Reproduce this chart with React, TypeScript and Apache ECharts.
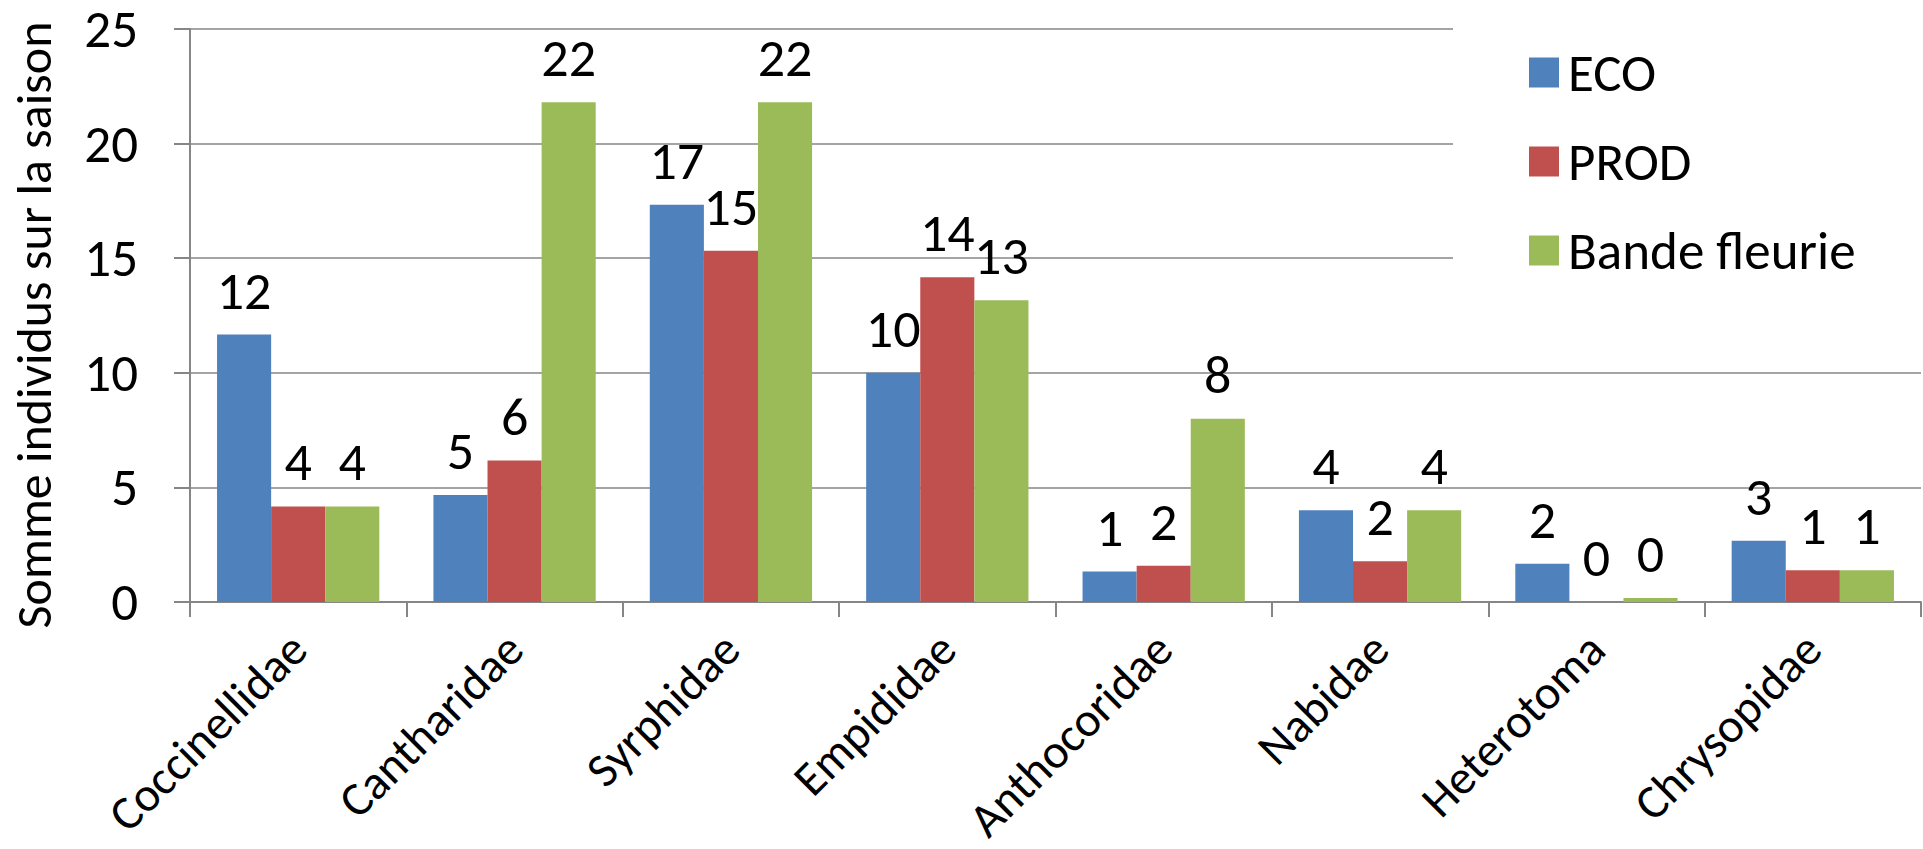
import React, { useEffect, useRef } from "react";
import * as echarts from "echarts";

// Families of beneficial insects counted over the season
const categories = [
  "Coccinellidae",
  "Cantharidae",
  "Syrphidae",
  "Empididae",
  "Anthocoridae",
  "Nabidae",
  "Heterotoma",
  "Chrysopidae",
];

// Season totals (mean per plot) for each treatment
const ecoValues = [11.67, 4.67, 17.33, 10, 1.33, 4, 1.67, 2.67];
const prodValues = [4.17, 6.17, 15.33, 14.17, 1.58, 1.78, 0, 1.38];
const bandeValues = [4.17, 21.8, 21.8, 13.17, 8, 4, 0.17, 1.38];

const seriesNames = ["ECO", "PROD", "Bande fleurie"];
const seriesColors = ["#4F81BD", "#C0504D", "#9BBB59"];

const yMin = 0;
const yMax = 25;
const yStep = 5;

const FONT = "Carlito, Calibri, 'Liberation Sans', Arial, sans-serif";
const AXIS_GREY = "#868686";

export default function App() {
  const ref = useRef<HTMLDivElement>(null);

  useEffect(() => {
    document.body.style.margin = "0";
    if (!ref.current) return;
    const chart = echarts.init(ref.current, undefined, { renderer: "svg" });

    const makeSeries = (name: string, data: number[], color: string) => ({
      name,
      type: "bar",
      data,
      barGap: "0%",
      barCategoryGap: "25%",
      itemStyle: { color },
      label: {
        show: true,
        position: "top",
        distance: 17,
        color: "#000",
        fontFamily: FONT,
        fontSize: 54,
        formatter: (p: any) => String(Math.round(p.value)),
      },
    });

    chart.setOption({
      animation: false,
      backgroundColor: "#fff",
      textStyle: { fontFamily: FONT },
      grid: {
        left: 184,
        top: 29,
        right: 2,
        bottom: 848 - 601,
        containLabel: false,
      },
      legend: {
        orient: "vertical",
        left: 1453,
        top: 20,
        padding: [26, 140, 50, 76],
        backgroundColor: "#fff",
        itemWidth: 30,
        itemHeight: 30,
        itemGap: 36,
        icon: "rect",
        textStyle: {
          fontFamily: FONT,
          fontSize: 53,
          lineHeight: 44,
          color: "#000",
          padding: [0, 0, 0, 4],
        },
        data: seriesNames,
      },
      xAxis: {
        type: "category",
        data: categories,
        boundaryGap: true,
        axisLine: { show: true, lineStyle: { color: AXIS_GREY, width: 2 } },
        axisTick: {
          show: true,
          alignWithLabel: false,
          length: 15,
          lineStyle: { color: AXIS_GREY, width: 2 },
        },
        axisLabel: {
          rotate: 45,
          margin: 39,
          interval: 0,
          color: "#000",
          fontFamily: FONT,
          fontSize: 48,
          lineHeight: 40,
        },
        splitLine: { show: false },
      },
      yAxis: {
        type: "value",
        min: yMin,
        max: yMax,
        interval: yStep,
        name: "Somme individus sur la saison",
        nameLocation: "middle",
        nameRotate: 90,
        nameGap: 132,
        nameTextStyle: {
          color: "#000",
          fontFamily: FONT,
          fontSize: 50,
          padding: [0, 19, 0, 0],
        },
        axisLine: { show: true, lineStyle: { color: AXIS_GREY, width: 2 } },
        axisTick: {
          show: true,
          inside: false,
          length: 16,
          lineStyle: { color: AXIS_GREY, width: 2 },
        },
        axisLabel: {
          margin: 52,
          color: "#000",
          fontFamily: FONT,
          fontSize: 53,
          lineHeight: 40,
        },
        splitLine: { show: true, lineStyle: { color: AXIS_GREY, width: 1.5 } },
      },
      series: [
        makeSeries(seriesNames[0], ecoValues, seriesColors[0]),
        makeSeries(seriesNames[1], prodValues, seriesColors[1]),
        makeSeries(seriesNames[2], bandeValues, seriesColors[2]),
      ],
    });

    return () => chart.dispose();
  }, []);

  return <div ref={ref} style={{ width: 1923, height: 849 }} />;
}
